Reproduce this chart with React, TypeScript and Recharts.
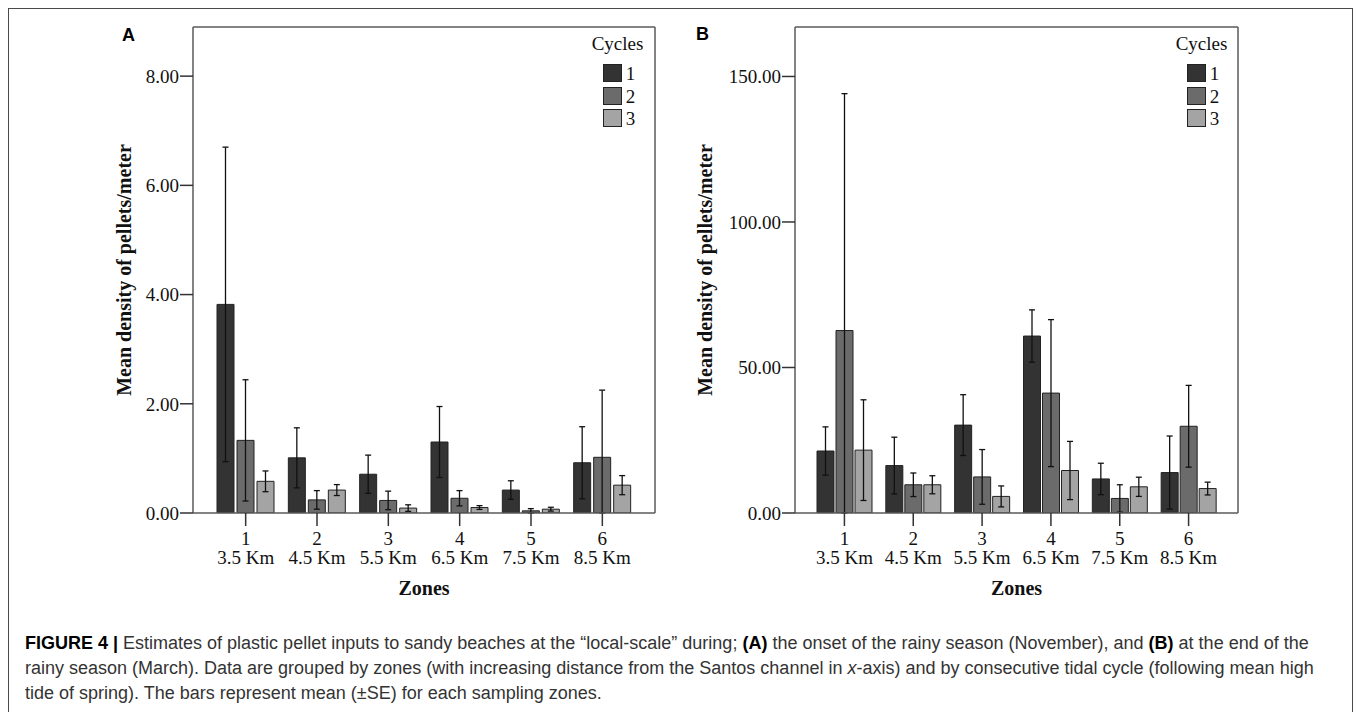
import React from 'react';
import { BarChart, Bar, XAxis, YAxis, CartesianGrid, ErrorBar, Legend } from 'recharts';

const zones = ['1', '2', '3', '4', '5', '6'];
const distances = ['3.5 Km', '4.5 Km', '5.5 Km', '6.5 Km', '7.5 Km', '8.5 Km'];
const cycles = ['1', '2', '3'];
const cycleColors = ['#333333', '#6b6b6b', '#a4a4a4'];

// panel A - onset of rainy season (November), mean and SE per zone
const novCycle1 = [3.82, 1.01, 0.71, 1.3, 0.42, 0.92];
const novCycle1Se = [2.88, 0.55, 0.35, 0.65, 0.17, 0.66];
const novCycle2 = [1.33, 0.24, 0.23, 0.27, 0.04, 1.02];
const novCycle2Se = [1.11, 0.17, 0.17, 0.14, 0.04, 1.23];
const novCycle3 = [0.58, 0.42, 0.09, 0.1, 0.07, 0.51];
const novCycle3Se = [0.19, 0.1, 0.06, 0.035, 0.035, 0.175];
const novTicks = [0, 2, 4, 6, 8];

// panel B - end of rainy season (March)
const marCycle1 = [21.3, 16.3, 30.2, 60.8, 11.7, 13.9];
const marCycle1Se = [8.3, 9.75, 10.45, 9.0, 5.4, 12.55];
const marCycle2 = [62.7, 9.7, 12.4, 41.2, 5.0, 29.8];
const marCycle2Se = [81.4, 4.05, 9.4, 25.25, 4.7, 14.05];
const marCycle3 = [21.6, 9.7, 5.7, 14.6, 9.0, 8.4];
const marCycle3Se = [17.3, 3.1, 3.6, 10.0, 3.3, 2.2];
const marTicks = [0, 50, 100, 150];

const serif = "'Liberation Serif', 'Times New Roman', serif";
const sans = "'Liberation Sans', Arial, sans-serif";
const boxStroke = '#5a5a5a';

function buildRows(means: number[][], ses: number[][]) {
  return zones.map((zone, i) => {
    const row: any = { zone, dist: distances[i] };
    means.forEach((m, k) => {
      row[`c${k + 1}`] = m[i];
      // lower whisker stops at the axis
      row[`e${k + 1}`] = [Math.min(ses[k][i], m[i]), ses[k][i]];
    });
    return row;
  });
}

const novRows = buildRows([novCycle1, novCycle2, novCycle3], [novCycle1Se, novCycle2Se, novCycle3Se]);
const marRows = buildRows([marCycle1, marCycle2, marCycle3], [marCycle1Se, marCycle2Se, marCycle3Se]);

const ZoneTick = (props: any) => {
  const { x, y, payload } = props;
  return (
    <g fontFamily={serif} fontSize={19} fill="#111">
      <text x={x} y={y + 17} textAnchor="middle">{payload.value}</text>
      <text x={x} y={y + 36} textAnchor="middle">{distances[payload.index]}</text>
    </g>
  );
};

const CyclesLegend = (props: any) => {
  const { payload = [] } = props;
  return (
    <div style={{ position: 'relative', width: 70, height: 100, fontFamily: serif, fontSize: 19, color: '#111' }}>
      <div style={{ position: 'absolute', left: 0, top: 0, lineHeight: '20px' }}>Cycles</div>
      {payload.map((p: any, i: number) => (
        <div key={i} style={{ position: 'absolute', left: 11, top: 30.7 + i * 22.5, width: 50, height: 18 }}>
          <div style={{ width: 17, height: 16, background: p.color, border: '1px solid #222' }} />
          <div style={{ position: 'absolute', left: 23, top: 0, lineHeight: '20px' }}>{p.value}</div>
        </div>
      ))}
    </div>
  );
};

interface PanelProps {
  rows: any[];
  domain: [number, number];
  ticks: number[];
  left: number;
  yAxisWidth: number;
  marginRight: number;
  labelX: number;
  legendLeft: number;
  barGap: number;
  xPad: number;
}

function Panel({ rows, domain, ticks, left, yAxisWidth, marginRight, labelX, legendLeft, barGap, xPad }: PanelProps) {
  return (
    <div style={{ position: 'absolute', left, top: 0 }}>
      <BarChart
        width={580}
        height={620}
        data={rows}
        margin={{ top: 27, right: marginRight, bottom: 7, left: 0 }}
        barSize={17}
        barGap={barGap}
      >
        <CartesianGrid
          stroke={boxStroke}
          strokeWidth={1.5}
          horizontalCoordinatesGenerator={({ offset }: any) => [offset.top]}
          verticalCoordinatesGenerator={({ offset }: any) => [offset.left + offset.width]}
        />
        <XAxis
          dataKey="zone"
          height={100}
          interval={0}
          padding={{ left: xPad, right: xPad }}
          tickSize={13}
          tickMargin={2}
          axisLine={{ stroke: boxStroke, strokeWidth: 1.5 }}
          tickLine={{ stroke: '#333', strokeWidth: 1.5 }}
          tick={<ZoneTick />}
          label={{
            content: ({ viewBox }: any) => (
              <text
                x={viewBox.x + viewBox.width / 2}
                y={viewBox.y + 82}
                textAnchor="middle"
                fontFamily={serif}
                fontSize={20}
                fontWeight="bold"
                fill="#111"
              >
                Zones
              </text>
            ),
          }}
        />
        <YAxis
          domain={domain}
          ticks={ticks}
          width={yAxisWidth}
          allowDataOverflow
          tickSize={13}
          tickMargin={1}
          tickFormatter={(v: number) => v.toFixed(2)}
          tick={{ fontFamily: serif, fontSize: 19, fill: '#111' }}
          axisLine={{ stroke: boxStroke, strokeWidth: 1.5 }}
          tickLine={{ stroke: '#333', strokeWidth: 1.5 }}
          label={{
            content: ({ viewBox }: any) => {
              const cx = viewBox.x + labelX;
              const cy = viewBox.y + viewBox.height / 2;
              return (
                <text
                  x={cx}
                  y={cy}
                  transform={`rotate(-90 ${cx} ${cy})`}
                  textAnchor="middle"
                  fontFamily={serif}
                  fontSize={20}
                  fontWeight="bold"
                  fill="#111"
                >
                  Mean density of pellets/meter
                </text>
              );
            },
          }}
        />
        <Legend
          layout="horizontal"
          verticalAlign="middle"
          content={<CyclesLegend />}
          wrapperStyle={{ left: legendLeft, top: 33.6, width: 70, height: 100 }}
        />
        {cycles.map((c, k) => (
          <Bar
            key={c}
            dataKey={`c${k + 1}`}
            name={c}
            fill={cycleColors[k]}
            stroke="#222"
            strokeWidth={1}
            isAnimationActive={false}
          >
            <ErrorBar dataKey={`e${k + 1}`} width={3} stroke="#111" strokeWidth={1.3} direction="y" />
          </Bar>
        ))}
      </BarChart>
    </div>
  );
}

const captionLine: React.CSSProperties = {
  position: 'absolute',
  left: 25,
  whiteSpace: 'nowrap',
  fontFamily: sans,
  fontSize: 18,
  lineHeight: '25px',
  color: '#333',
};

export default function App() {
  return (
    <div style={{ position: 'absolute', left: 0, top: 0, width: 1358, height: 712, overflow: 'hidden', background: '#fff' }}>
      <div style={{ position: 'absolute', left: 8, top: 8, width: 1345, height: 720, border: '1px solid #4a4a4a', boxSizing: 'border-box' }} />
      <Panel
        rows={novRows}
        domain={[0, 8.9]}
        ticks={novTicks}
        left={100}
        yAxisWidth={93}
        marginRight={25}
        labelX={31}
        legendLeft={491.7}
        barGap={3}
        xPad={17}
      />
      <Panel
        rows={marRows}
        domain={[0, 167]}
        ticks={marTicks}
        left={680}
        yAxisWidth={115}
        marginRight={22}
        labelX={32}
        legendLeft={495.7}
        barGap={2}
        xPad={15}
      />
      <div style={{ position: 'absolute', left: 122, top: 25.7, fontFamily: sans, fontWeight: 'bold', fontSize: 18, lineHeight: '18px', color: '#000' }}>A</div>
      <div style={{ position: 'absolute', left: 696, top: 24.7, fontFamily: sans, fontWeight: 'bold', fontSize: 18, lineHeight: '18px', color: '#000' }}>B</div>
      <div style={{ ...captionLine, top: 631 }}>
        <b style={{ color: '#000' }}>FIGURE 4 |</b> Estimates of plastic pellet inputs to sandy beaches at the “local-scale” during; <b style={{ color: '#000' }}>(A)</b> the onset of the rainy season (November), and <b style={{ color: '#000' }}>(B)</b> at the end of the
      </div>
      <div style={{ ...captionLine, top: 656 }}>
        rainy season (March). Data are grouped by zones (with increasing distance from the Santos channel in <i>x</i>-axis) and by consecutive tidal cycle (following mean high
      </div>
      <div style={{ ...captionLine, top: 681 }}>
        tide of spring). The bars represent mean (±SE) for each sampling zones.
      </div>
    </div>
  );
}
